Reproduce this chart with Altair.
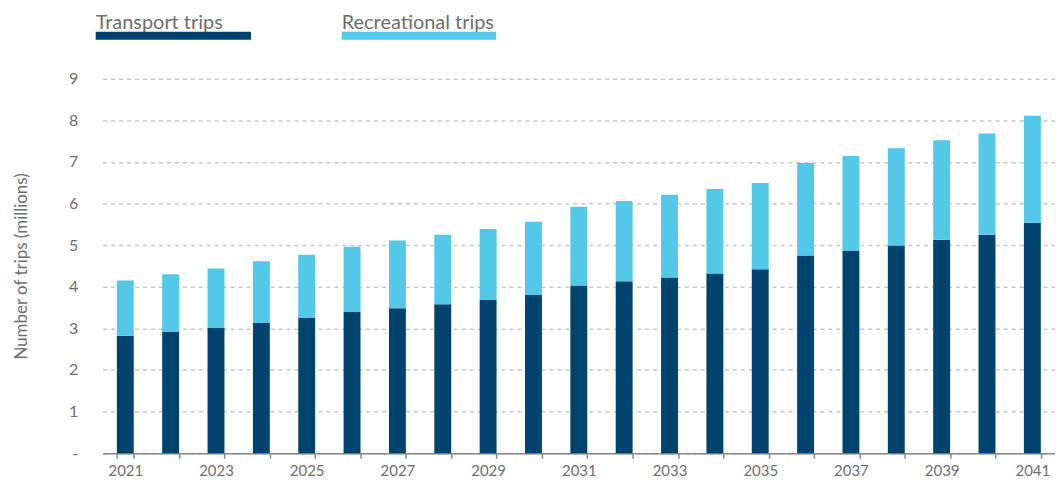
import altair as alt
import pandas as pd

years = [str(y) for y in range(2021, 2042)]
transport = [2.82, 2.91, 3.01, 3.13, 3.25, 3.39, 3.48, 3.58, 3.68, 3.80, 4.03,
             4.13, 4.22, 4.32, 4.42, 4.75, 4.87, 4.99, 5.13, 5.25, 5.54]
recreational = [1.33, 1.39, 1.43, 1.48, 1.52, 1.57, 1.63, 1.67, 1.71, 1.76, 1.89,
                1.93, 1.99, 2.03, 2.07, 2.22, 2.27, 2.34, 2.39, 2.43, 2.57]
series = ["Transport trips", "Recreational trips"]
colors = ["#00436F", "#53C8E9"]
y_ticks = list(range(0, 10))

rows = []
for i, yr in enumerate(years):
    rows.append({"year": yr, "series": series[0], "ord": 0, "value": transport[i]})
    rows.append({"year": yr, "series": series[1], "ord": 1, "value": recreational[i]})
df = pd.DataFrame(rows)

FONT = "Lato"
GREY = "#6d6e71"
PLOT_W = 956
PLOT_H = 376

bars = alt.Chart(df).mark_bar().encode(
    x=alt.X("year:N", sort=years, title=None,
            scale=alt.Scale(paddingInner=0.627, paddingOuter=0.313),
            axis=alt.Axis(labelAngle=0, tickBand="extent", domainColor="#888888",
                          domainWidth=1.5, tickColor="#888888", tickWidth=1.5,
                          tickSize=5, labelPadding=5, labelFontSize=15,
                          labelColor=GREY, labelFont=FONT,
                          labelExpr="toNumber(datum.value) % 2 == 1 ? datum.value : ''")),
    y=alt.Y("value:Q", stack="zero", title="Number of trips (millions)",
            scale=alt.Scale(domain=[0, 9], nice=False),
            axis=alt.Axis(values=y_ticks, domain=False, ticks=False, labelPadding=25,
                          labelFontSize=16, labelColor=GREY, labelFont=FONT,
                          labelExpr="datum.value == 0 ? '-' : datum.label",
                          gridColor="#c8c8c8", gridDash=[4, 4], gridWidth=1.5,
                          titleFontSize=17, titleColor=GREY, titleFont=FONT,
                          titleFontWeight="normal", titleX=-81, titleY=PLOT_H / 2,
                          titleAngle=270, titleAlign="center", titleBaseline="middle")),
    color=alt.Color("series:N", scale=alt.Scale(domain=series, range=colors), legend=None),
    order=alt.Order("ord:Q", sort="ascending"),
)

leg_df = pd.DataFrame({"series": series, "color": colors})
legend_parts = []
offsets = [-7, 240]
lengths = [156, 155]
for i, s in enumerate(series):
    d = leg_df[leg_df["series"] == s]
    t = alt.Chart(d).mark_text(align="left", baseline="alphabetic", font=FONT,
                               fontSize=20, color=GREY).encode(
        x=alt.value(offsets[i]), y=alt.value(-50), text="series:N")
    r = alt.Chart(d).mark_rect(color=colors[i]).encode(
        x=alt.value(offsets[i]), x2=alt.value(offsets[i] + lengths[i]),
        y=alt.value(-47), y2=alt.value(-39))
    legend_parts += [t, r]

chart = alt.layer(bars, *legend_parts).properties(
    width=PLOT_W, height=PLOT_H,
    autosize=alt.AutoSizeParams(type="none"),
    padding={"left": 95, "top": 70, "right": 0, "bottom": 26},
).configure_view(stroke=None)

chart.save("out.html", embed_options={"renderer": "svg", "actions": False})
